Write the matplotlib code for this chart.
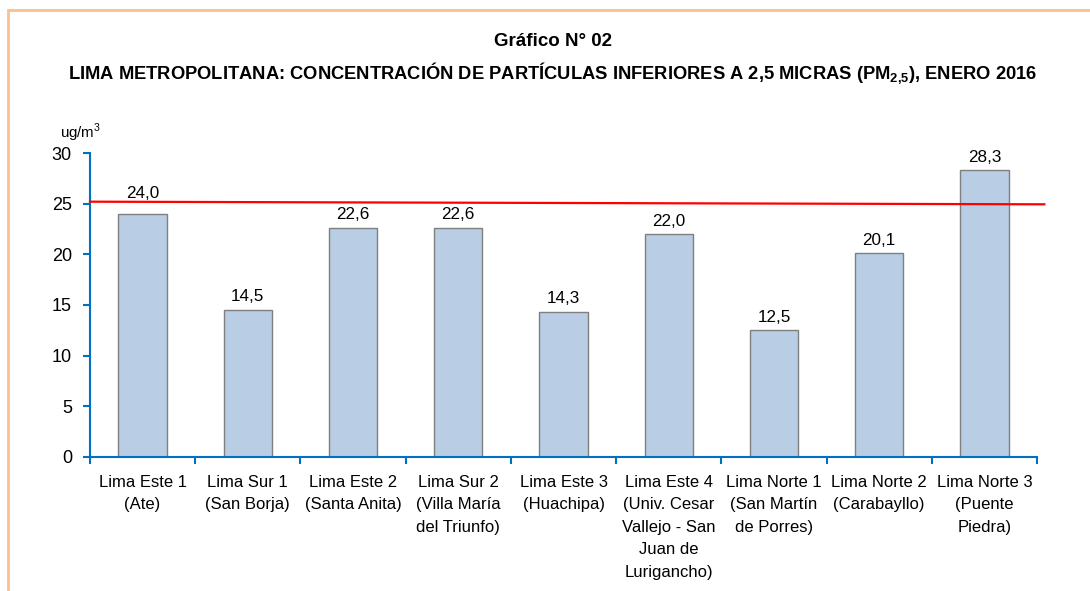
import matplotlib
matplotlib.use("Agg")
import matplotlib.pyplot as plt
from matplotlib.patches import Rectangle
import numpy as np

categorias = [
    "Lima Este 1\n(Ate)",
    "Lima Sur 1\n(San Borja)",
    "Lima Este 2\n(Santa Anita)",
    "Lima Sur 2\n(Villa María\ndel Triunfo)",
    "Lima Este 3\n(Huachipa)",
    "Lima Este 4\n(Univ. Cesar\nVallejo - San\nJuan de\nLurigancho)",
    "Lima Norte 1\n(San Martín\nde Porres)",
    "Lima Norte 2\n(Carabayllo)",
    "Lima Norte 3\n(Puente\nPiedra)",
]
valores = [24.0, 14.5, 22.6, 22.6, 14.3, 22.0, 12.5, 20.1, 28.3]
# reference (limit) line, slightly tilted as drawn in the original
limite_x = [-0.5, 8.57]
limite_y = [25.2, 24.94]
yticks = [0, 5, 10, 15, 20, 25, 30]

FONT = ["Liberation Sans Narrow", "Liberation Sans", "DejaVu Sans"]
plt.rcParams["font.family"] = FONT
plt.rcParams["mathtext.fontset"] = "custom"
plt.rcParams["mathtext.rm"] = "Liberation Sans"
plt.rcParams["mathtext.bf"] = "Liberation Sans:bold"

fig = plt.figure(figsize=(10.9, 5.91), dpi=100)
ax = fig.add_axes([90 / 1090, 1 - 456.7 / 591, (1037 - 90) / 1090, (456.7 - 153.1) / 591])

blue = "#0070C0"
x = np.arange(len(categorias))
ax.bar(x, valores, width=0.46, color="#B9CDE5", edgecolor="#7F7F7F", linewidth=1.0, zorder=2)
for i, (xi, v) in enumerate(zip(x, valores)):
    off = 9 if i == 0 else 4
    ax.annotate(f"{v:.1f}".replace(".", ","), (xi, v), xytext=(0, off), textcoords="offset points",
                ha="center", va="bottom", fontsize=12.3, color="black", zorder=4)

ax.plot(limite_x, limite_y, color="#FF0000", lw=1.6, zorder=3, clip_on=False)

ax.set_xlim(-0.5, len(categorias) - 0.5)
ax.set_ylim(0, 30)
ax.set_yticks(yticks)
ax.set_yticklabels([str(t) for t in yticks], fontsize=13)
ax.set_xticks(x)
ax.set_xticklabels(categorias, fontsize=12, linespacing=1.62)
ax.set_xticks(np.arange(-0.5, len(categorias)), minor=True)
ax.tick_params(axis="x", which="major", length=0, pad=13)
ax.tick_params(axis="x", which="minor", length=5, width=1.5, color=blue, direction="out")
ax.tick_params(axis="y", length=5, width=1.5, color=blue, direction="out", pad=8)

for s in ["top", "right"]:
    ax.spines[s].set_visible(False)
for s in ["left", "bottom"]:
    ax.spines[s].set_color(blue)
    ax.spines[s].set_linewidth(1.5)

fig.text(553 / 1090, 1 - 42 / 591, "Gráfico N° 02", ha="center", va="center",
         fontsize=13.5, fontweight="bold")
fig.text(553 / 1090, 1 - 73 / 591,
         r"LIMA METROPOLITANA: CONCENTRACIÓN DE PARTÍCULAS INFERIORES A 2,5 MICRAS (PM$_{\mathbf{2{,}5}}$), ENERO 2016",
         ha="center", va="center", fontsize=13.2, fontweight="bold")
fig.text(80 / 1090, 1 - 133 / 591, r"ug/m$^{3}$", ha="center", va="center", fontsize=10.8)

# orange frame
fig.patches.append(Rectangle((8 / 1090, -0.1), 1.2, 1 - 10 / 591 + 0.1, transform=fig.transFigure,
                             fill=False, edgecolor="#FAC08F", linewidth=2, zorder=0))

fig.savefig("out.png", dpi=100)
